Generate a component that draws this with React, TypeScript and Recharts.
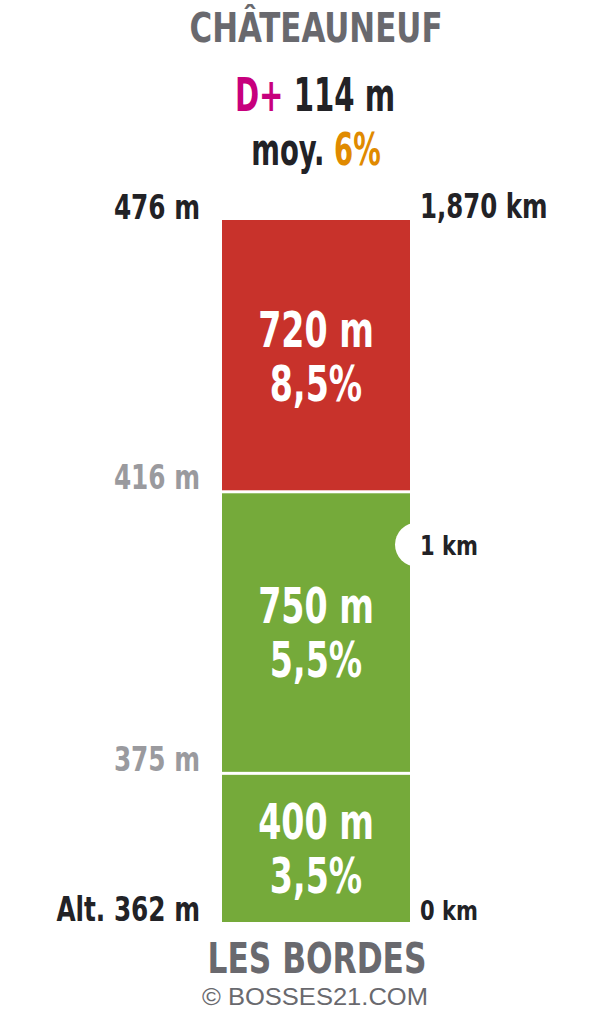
import { BarChart, Bar, XAxis, YAxis, LabelList } from "recharts";

// climb profile: Les Bordes -> Châteauneuf
const startName = "LES BORDES";
const summitName = "CHÂTEAUNEUF";
const totalGain = 114;
const avgGrade = "6%";
const segmentLengths = [400, 750, 720]; // metres, bottom to top
const segmentGrades = ["3,5%", "5,5%", "8,5%"];
const altitudes = [362, 375, 416, 476]; // at each segment boundary
const kmTicks = [0, 1000, 1870];
const kmLabels = ["0 km", "1 km", "1,870 km"];

const FONT = "'Liberation Sans Narrow', 'DejaVu Sans Condensed', sans-serif";
const DARK = "#222226";
const GREY = "#69696e";
const LIGHT = "#9a9a9e";
const segmentColors = ["#75aa3a", "#75aa3a", "#c8322b"];

const boundaries = segmentLengths.reduce(
  (acc: number[], len) => [...acc, acc[acc.length - 1] + len],
  [0]
);
const total = boundaries[boundaries.length - 1];

const row: any = { name: "montee", km: total };
segmentLengths.forEach((len, i) => {
  row["seg" + i] = len;
});
const data = [row];

// the original uses a heavy condensed face, squeeze DejaVu horizontally
const Narrow = ({ x, y, sx, anchor = "start", children, ...rest }: any) => (
  <text
    transform={`translate(${x},${y}) scale(${sx},1)`}
    x={0}
    y={0}
    textAnchor={anchor}
    fontFamily={FONT}
    fontWeight="bold"
    {...rest}
  >
    {children}
  </text>
);

const AltTick = (props: any) => {
  const { x, y, payload } = props;
  const i = boundaries.indexOf(payload.value);
  if (i < 0) return null;
  const edge = i === 0 || i === altitudes.length - 1;
  const label = i === 0 ? `Alt. ${altitudes[0]} m` : `${altitudes[i]} m`;
  return (
    <Narrow x={x} y={y - 1} sx={0.81} anchor="end" fill={edge ? DARK : LIGHT} fontSize={34}>
      {label}
    </Narrow>
  );
};

const KmTick = (props: any) => {
  const { x, y, payload } = props;
  const i = kmTicks.indexOf(payload.value);
  if (i < 0) return null;
  const mid = i > 0 && i < kmTicks.length - 1;
  const big = i === kmTicks.length - 1;
  return (
    <g>
      {mid && <circle cx={x - 3} cy={y - 2} r={22} fill="#fff" />}
      <Narrow x={x} y={mid ? y + 8 : y - 2} sx={big ? 0.8 : 0.9} fill={DARK} fontSize={big ? 34 : 26}>
        {kmLabels[i]}
      </Narrow>
    </g>
  );
};

const SegShape = (props: any) => {
  const { x, y, width, height, fill, gap } = props;
  return <rect x={x} y={y + gap} width={width} height={Math.max(0, height - gap)} fill={fill} />;
};

const segLabel = (i: number) => (props: any) => {
  const { x, y, width, height } = props;
  const cx = x + width / 2;
  const cy = y + height / 2;
  return (
    <g>
      <Narrow x={cx} y={cy - 8} sx={0.74} anchor="middle" fill="#fff" fontSize={50}>
        {segmentLengths[i]} m
      </Narrow>
      <Narrow x={cx} y={cy + 46} sx={0.74} anchor="middle" fill="#fff" fontSize={50}>
        {segmentGrades[i]}
      </Narrow>
    </g>
  );
};

const fit = (w: number) => ({ textLength: w, lengthAdjust: "spacingAndGlyphs" as const });

export default function App() {
  return (
    <div style={{ position: "absolute", left: 0, top: 0, width: 600, height: 1024, background: "#fff" }}>
      <BarChart
        width={600}
        height={1024}
        data={data}
        margin={{ top: 220, right: 170, bottom: 102, left: 200 }}
        barCategoryGap={0}
      >
        <XAxis xAxisId="main" dataKey="name" hide />
        <XAxis xAxisId="km" dataKey="name" hide />
        <YAxis
          yAxisId="alt"
          orientation="left"
          width={22}
          domain={[0, total]}
          ticks={boundaries}
          interval={0}
          axisLine={false}
          tickLine={false}
          tickSize={0}
          tickMargin={22}
          tick={<AltTick />}
        />
        <YAxis
          yAxisId="km"
          orientation="right"
          width={20}
          domain={[0, total]}
          ticks={kmTicks}
          interval={0}
          axisLine={false}
          tickLine={false}
          tickSize={0}
          tickMargin={10}
          tick={<KmTick />}
        />
        {/* invisible carrier so the distance axis gets drawn */}
        <Bar xAxisId="km" yAxisId="km" dataKey="km" fill="none" stroke="none" isAnimationActive={false} />
        {segmentLengths.map((_, i) => (
          <Bar
            key={i}
            xAxisId="main"
            yAxisId="alt"
            dataKey={"seg" + i}
            stackId="climb"
            fill={segmentColors[i]}
            isAnimationActive={false}
            shape={(p: any) => <SegShape {...p} gap={i < segmentLengths.length - 1 ? 3 : 0} />}
          >
            <LabelList content={segLabel(i)} />
          </Bar>
        ))}
        <text x={316} y={42} textAnchor="middle" fill={GREY} fontSize={40} fontWeight="bold" fontFamily={FONT} {...fit(253)}>
          {summitName}
        </text>
        <Narrow x={315} y={111} sx={0.69} anchor="middle" fontSize={47}>
          <tspan fill="#c7007d">D+</tspan>
          <tspan fill={DARK}> {totalGain} m</tspan>
        </Narrow>
        <Narrow x={316} y={165} sx={0.68} anchor="middle" fontSize={45}>
          <tspan fill={DARK}>moy. </tspan>
          <tspan fill="#e08a00">{avgGrade}</tspan>
        </Narrow>
        <text x={317} y={973} textAnchor="middle" fill={GREY} fontSize={43} fontWeight="bold" fontFamily={FONT} {...fit(219)}>
          {startName}
        </text>
        <text x={315} y={1005} textAnchor="middle" fill={GREY} fontSize={23} fontFamily="'Liberation Sans', Arial, sans-serif" {...fit(226)}>
          © BOSSES21.COM
        </text>
      </BarChart>
    </div>
  );
}
